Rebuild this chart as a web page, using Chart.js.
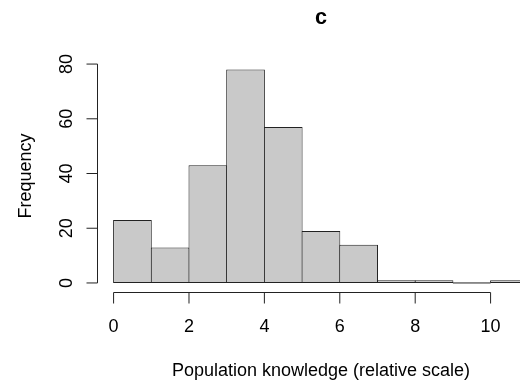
<!DOCTYPE html>
<html>
<head>
<meta charset="utf-8">
<script src="https://cdn.jsdelivr.net/npm/chart.js@4/dist/chart.umd.min.js"></script>
<style>
  html, body { margin: 0; padding: 0; background: #fff; }
  #wrap { width: 520px; height: 387px; position: relative; }
</style>
</head>
<body>
<div id="wrap"><canvas id="hist"></canvas></div>
<script>
// histogram bins (width 1) and their counts
const binStarts = [0, 1, 2, 3, 4, 5, 6, 7, 8, 9, 10];
const counts = [23, 13, 43, 78, 57, 19, 14, 1, 1, 0, 1];
const xTicks = [0, 2, 4, 6, 8, 10];
const yTicks = [0, 20, 40, 60, 80];

const mainTitle = "c";
const xTitle = "Population knowledge (relative scale)";
const yTitle = "Frequency";

const FONT = '"Liberation Sans", Arial, Helvetica, sans-serif';
const INK = "#222";
const TICK_LEN = 11;

// base-graphics style axes, labels and empty bins
const rAxes = {
  id: "rAxes",
  afterDatasetsDraw(chart) {
    const { ctx, scales: { x, y } } = chart;
    ctx.save();
    ctx.strokeStyle = INK;
    ctx.lineWidth = 1;
    // empty bins still get a flat outline at zero
    counts.forEach((c, i) => {
      if (c !== 0) return;
      ctx.beginPath();
      ctx.moveTo(x.getPixelForValue(binStarts[i]), y.getPixelForValue(0));
      ctx.lineTo(x.getPixelForValue(binStarts[i] + 1), y.getPixelForValue(0));
      ctx.stroke();
    });
    ctx.restore();
  },
  afterDraw(chart) {
    const { ctx, chartArea, scales: { x, y } } = chart;
    ctx.save();
    ctx.strokeStyle = INK;
    ctx.fillStyle = "#000";
    ctx.lineWidth = 1;

    // x axis
    const xb = Math.round(chartArea.bottom) + 0.5;
    ctx.beginPath();
    ctx.moveTo(x.getPixelForValue(xTicks[0]), xb);
    ctx.lineTo(x.getPixelForValue(xTicks[xTicks.length - 1]), xb);
    xTicks.forEach(v => {
      const px = x.getPixelForValue(v);
      ctx.moveTo(px, xb);
      ctx.lineTo(px, xb + TICK_LEN);
    });
    ctx.stroke();

    ctx.font = "18px " + FONT;
    ctx.textAlign = "center";
    ctx.textBaseline = "alphabetic";
    xTicks.forEach(v => ctx.fillText(String(v), x.getPixelForValue(v), 332));

    // y axis
    const yl = Math.round(chartArea.left) + 0.5;
    ctx.beginPath();
    ctx.moveTo(yl, y.getPixelForValue(yTicks[0]));
    ctx.lineTo(yl, y.getPixelForValue(yTicks[yTicks.length - 1]));
    yTicks.forEach(v => {
      const py = y.getPixelForValue(v);
      ctx.moveTo(yl, py);
      ctx.lineTo(yl - TICK_LEN, py);
    });
    ctx.stroke();

    yTicks.forEach(v => {
      ctx.save();
      ctx.translate(72, y.getPixelForValue(v));
      ctx.rotate(-Math.PI / 2);
      ctx.fillText(String(v), 0, 0);
      ctx.restore();
    });

    // titles
    ctx.fillText(xTitle, 321, 376);
    ctx.save();
    ctx.translate(31, 176);
    ctx.rotate(-Math.PI / 2);
    ctx.fillText(yTitle, 0, 0);
    ctx.restore();

    ctx.font = "bold 21.6px " + FONT;
    ctx.fillText(mainTitle, 321, 24);
    ctx.restore();
  }
};

// px per unit on x is about 37.7, widen bars by 1px so neighbours share one edge
const binPx = 37.7;

new Chart(document.getElementById("hist"), {
  type: "bar",
  data: {
    datasets: [{
      data: binStarts.map((b, i) => ({ x: b + 0.5, y: counts[i] })),
      backgroundColor: "#c9c9c9",
      borderColor: INK,
      borderWidth: 1,
      borderSkipped: false,
      barPercentage: (binPx + 1) / binPx,
      categoryPercentage: 1
    }]
  },
  options: {
    responsive: true,
    maintainAspectRatio: false,
    animation: false,
    layout: { padding: { left: 97, top: 61, right: 0, bottom: 95.5 } },
    plugins: {
      legend: { display: false },
      tooltip: { enabled: false },
      title: { display: false }
    },
    scales: {
      x: { type: "linear", display: false, offset: false, min: -0.44, max: 10.78 },
      y: { type: "linear", display: false, min: -3.12, max: 81.12 }
    }
  },
  plugins: [rAxes]
});
</script>
</body>
</html>
